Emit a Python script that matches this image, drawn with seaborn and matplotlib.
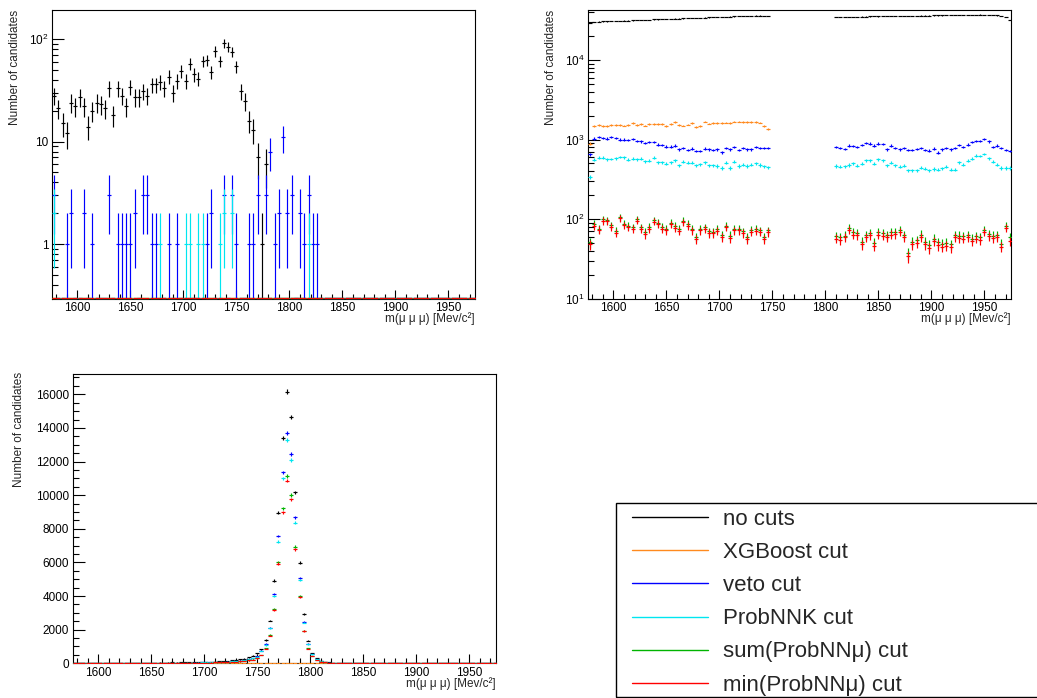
import numpy as np
import matplotlib
matplotlib.use("Agg")
import matplotlib.pyplot as plt
from matplotlib.lines import Line2D
from matplotlib.patches import Rectangle
from matplotlib.ticker import LogLocator, MultipleLocator, FuncFormatter, NullFormatter
import seaborn as sns

# ------------------------------------------------------------------ data
bin_centers = np.arange(1578, 1978, 4)          # 100 bins of 4 MeV/c^2

series_names = ["no cuts", "XGBoost cut", "veto cut", "ProbNNK cut",
                "sum(ProbNNμ) cut", "min(ProbNNμ) cut"]
series_colors = ["#000000", "#ff8a1e", "#0000ff", "#00e6f0", "#00b400", "#ff0000"]

# --- top-left panel (log y) ---
tl_no_cuts = [28, 21, 15, 12, 24, 22, 27, 22, 14, 20,
              24, 23, 21, 33, 18, 33, 28, 22, 34, 27,
              27, 31, 28, 36, 36, 38, 33, 43, 30, 39,
              49, 39, 57, 45, 41, 61, 62, 48, 76, 61,
              91, 84, 75, 54, 31, 25, 16, 13, 7, 1,
              6] + [0] * 49
tl_veto_mass = [1578, 1590, 1594, 1606, 1614, 1630, 1638, 1642, 1646, 1650,
                1654, 1662, 1666, 1670, 1674, 1686, 1694, 1722, 1726, 1738,
                1746, 1750, 1762, 1766, 1770, 1778, 1782, 1786, 1790, 1794,
                1798, 1802, 1810, 1814, 1818, 1822, 1826]
tl_veto_counts = [3, 1, 2, 2, 1, 3, 1, 1, 1, 1,
                  2, 3, 3, 1, 1, 1, 1, 1, 2, 3,
                  3, 1, 1, 1, 3, 3, 8, 1, 2, 11,
                  2, 3, 2, 1, 3, 1, 1]
tl_probnnk_mass = [1578, 1678, 1702, 1706, 1714, 1718, 1734, 1738, 1746, 1818]
tl_probnnk_counts = [2, 1, 1, 1, 1, 1, 1, 2, 2, 1]
tl_xgboost = [0] * 100
tl_sum_mu = [0] * 100
tl_min_mu = [0] * 100

# --- top-right panel (log y), sidebands: low 1578-1746, high 1810-1974 ---
tr_no_cuts_low = [29300, 30000, 30300, 30500, 30600, 30700, 30900, 31100, 31200, 31300,
                  31500, 31700, 31800, 32000, 32100, 32300, 32400, 32600, 32800, 32900,
                  33100, 33200, 33400, 33500, 33700, 33900, 34000, 34200, 34300, 34500,
                  34600, 34800, 35000, 35100, 35300, 35500, 35600, 35800, 36000, 36200,
                  36100, 36000, 35800]
tr_no_cuts_high = [34600, 34800, 34700, 34500, 34900, 35000, 35200, 35100, 35300, 35400,
                   35300, 35500, 35600, 35500, 35700, 35800, 35700, 35900, 36000, 35900,
                   36100, 36200, 36100, 36300, 36400, 36300, 36500, 36600, 36500, 36700,
                   36800, 36900, 37000, 37100, 37200, 37000, 36800, 36600, 36300, 35800,
                   34500, 31800]
tr_xgboost_low = [890, 1470, 1510, 1485, 1470, 1530, 1530, 1510, 1500, 1530,
                  1620, 1540, 1560, 1500, 1575, 1575, 1575, 1560, 1485, 1560,
                  1650, 1530, 1500, 1545, 1620, 1440, 1485, 1680, 1590, 1605,
                  1605, 1605, 1635, 1605, 1680, 1680, 1665, 1665, 1665, 1665,
                  1635, 1480, 1370]
tr_veto_low = [650, 1030, 1070, 1050, 1030, 1070, 1040, 1000, 1000, 990,
               1010, 950, 945, 900, 925, 925, 865, 850, 815, 815,
               840, 750, 785, 740, 770, 715, 720, 770, 750, 740,
               750, 690, 780, 755, 800, 740, 780, 750, 755, 800,
               780, 780, 780]
tr_veto_high = [810, 785, 765, 840, 830, 810, 850, 900, 890, 840,
                890, 880, 750, 840, 785, 755, 780, 740, 740, 765,
                780, 735, 725, 770, 685, 750, 785, 755, 785, 850,
                810, 865, 925, 960, 960, 1010, 945, 810, 840, 785,
                740, 720]
tr_probnnk_low = [335, 560, 590, 590, 565, 570, 580, 605, 595, 560,
                  575, 565, 575, 530, 545, 590, 520, 520, 495, 520,
                  550, 475, 525, 510, 510, 475, 490, 515, 475, 475,
                  465, 440, 510, 440, 525, 465, 485, 465, 485, 500,
                  480, 460, 450]
tr_probnnk_high = [465, 455, 460, 480, 500, 470, 495, 550, 550, 495,
                   565, 550, 475, 510, 475, 455, 470, 410, 410, 410,
                   445, 430, 410, 425, 420, 435, 455, 420, 420, 515,
                   485, 540, 575, 630, 620, 660, 580, 525, 485, 440,
                   440, 440]
tr_sum_mu_low = [51, 87, 76, 99, 97, 84, 71, 106, 88, 82,
                 79, 100, 79, 69, 80, 97, 90, 80, 76, 90,
                 82, 75, 95, 87, 76, 60, 76, 79, 70, 69,
                 75, 63, 83, 62, 75, 76, 70, 60, 73, 75,
                 72, 60, 72]
tr_sum_mu_high = [61, 59, 62, 78, 68, 67, 52, 63, 67, 50,
                  68, 66, 63, 68, 69, 73, 63, 37, 52, 54,
                  64, 52, 47, 57, 51, 49, 50, 48, 63, 62,
                  61, 63, 57, 61, 59, 73, 65, 62, 63, 49,
                  83, 60]
tr_min_mu_low = [48, 82, 73, 95, 94, 80, 67, 102, 84, 79,
                 75, 96, 75, 65, 76, 93, 87, 76, 72, 86,
                 78, 71, 91, 83, 72, 56, 72, 75, 66, 66,
                 71, 59, 79, 58, 72, 72, 66, 56, 69, 71,
                 69, 56, 68]
tr_min_mu_high = [57, 55, 59, 74, 64, 63, 48, 59, 63, 46,
                  64, 62, 59, 64, 65, 69, 59, 34, 48, 50,
                  59, 48, 43, 53, 47, 45, 46, 44, 59, 58,
                  57, 59, 53, 57, 55, 69, 61, 58, 59, 45,
                  78, 53]

# --- bottom-left panel (linear y), full range ---
bl_no_cuts = ([18, 22, 20, 25, 19, 24, 27, 22, 26, 30, 28, 25, 31, 29, 33, 35, 30, 38, 36, 40,
               42, 39, 45, 48, 44, 52, 55, 58]
              + [62, 70, 78, 85, 95, 105, 118, 130, 150, 170, 195, 230, 280, 350, 450, 600]
              + [830, 1390, 2540, 4920, 8960, 13420, 16160, 14630, 10170, 5990, 2915, 1350,
                 595, 300, 150]
              + [80, 52, 36, 27, 23, 19, 18, 16, 17, 15, 14, 15, 13, 12, 14, 12, 11, 13, 11, 10,
                 12, 10, 9, 11, 10, 9, 10, 8, 9, 9, 8, 9, 8, 7, 8, 8, 7, 8, 7, 6, 7])
bl_xgboost = [0] * 100
bl_veto = ([12, 15, 13, 17, 13, 16, 18, 15, 17, 20, 19, 17, 21, 19, 22, 23, 20, 25, 24, 27,
            28, 26, 30, 32, 29, 35, 37, 39]
           + [42, 47, 52, 57, 64, 70, 79, 87, 100, 114, 131, 155, 189, 236, 305, 410]
           + [750, 1150, 2120, 4100, 7570, 11360, 13720, 12450, 8685, 5075, 2440, 1170,
              555, 260, 125]
           + [65, 42, 29, 22, 18, 15, 14, 13, 13, 12, 11, 12, 10, 10, 11, 9, 9, 10, 9, 8,
              9, 8, 7, 9, 8, 7, 8, 6, 7, 7, 6, 7, 6, 6, 6, 6, 5, 6, 5, 5, 5])
bl_probnnk = ([11, 14, 12, 16, 12, 15, 17, 14, 16, 19, 18, 16, 20, 18, 21, 22, 19, 24, 23, 26,
               27, 25, 29, 31, 28, 34, 36, 38]
              + [40, 45, 50, 55, 62, 68, 76, 84, 97, 110, 127, 150, 183, 228, 295, 395]
              + [730, 1090, 2080, 4005, 7240, 11000, 13290, 12100, 8370, 4960, 2420, 1130,
                 535, 250, 120]
              + [62, 40, 28, 21, 17, 14, 13, 12, 12, 11, 10, 11, 9, 9, 10, 8, 8, 9, 8, 7,
                 8, 7, 6, 8, 7, 6, 7, 5, 6, 6, 5, 6, 5, 5, 5, 5, 4, 5, 4, 4, 4])
bl_sum_mu = ([9, 11, 10, 12, 9, 12, 13, 11, 13, 15, 14, 12, 15, 14, 16, 17, 15, 19, 18, 20,
              21, 19, 22, 24, 22, 26, 27, 29]
             + [31, 35, 39, 42, 47, 52, 59, 65, 75, 85, 97, 115, 140, 175, 225, 300]
             + [495, 890, 1685, 3230, 6010, 9220, 11145, 10015, 6940, 4005, 1943, 890,
                435, 205, 100]
             + [52, 34, 23, 17, 14, 12, 11, 10, 10, 9, 9, 9, 8, 7, 8, 7, 7, 8, 7, 6,
                7, 6, 5, 7, 6, 5, 6, 4, 5, 5, 4, 5, 4, 4, 4, 4, 3, 4, 3, 3, 3])
bl_min_mu = ([9, 10, 10, 12, 9, 11, 13, 11, 12, 14, 13, 12, 15, 14, 16, 16, 14, 18, 17, 19,
              20, 19, 21, 23, 21, 25, 26, 28]
             + [30, 34, 38, 41, 46, 51, 57, 63, 73, 83, 95, 112, 137, 171, 220, 292]
             + [490, 870, 1650, 3180, 5920, 8980, 10870, 9760, 6780, 3930, 1925, 870,
                430, 200, 98]
             + [50, 33, 22, 17, 14, 12, 11, 10, 9, 9, 8, 9, 8, 7, 8, 7, 6, 7, 7, 6,
                7, 6, 5, 6, 6, 5, 6, 4, 5, 5, 4, 5, 4, 4, 4, 4, 3, 4, 3, 3, 3])

x_axis_label = "m(μ μ μ) [Mev/c²]"
y_axis_label = "Number of candidates"

# ------------------------------------------------------------------ style
sns.set_theme(style="white")
plt.rcParams["font.family"] = ["Liberation Sans", "DejaVu Sans"]
plt.rcParams["mathtext.fontset"] = "custom"
plt.rcParams["mathtext.rm"] = "Liberation Sans"
plt.rcParams["mathtext.it"] = "Liberation Sans:italic"
plt.rcParams["mathtext.bf"] = "Liberation Sans:bold"
plt.rcParams["axes.edgecolor"] = "black"
plt.rcParams["axes.linewidth"] = 0.8

W, H = 1037, 698
fig = plt.figure(figsize=(W / 100, H / 100), dpi=100)
fig.patch.set_facecolor("white")


def rect(left, top, right, bottom):
    return [left / W, 1 - bottom / H, (right - left) / W, (bottom - top) / H]


ax_tl = fig.add_axes(rect(52, 10, 475, 299))
ax_tr = fig.add_axes(rect(588, 10, 1011, 299))
ax_bl = fig.add_axes(rect(72.7, 374.3, 495.7, 663.3))

TL_YMIN, TL_YMAX = 0.293, 191
TR_YMIN, TR_YMAX = 9.9, 42500
BL_YMIN, BL_YMAX = 0, 17190
XMIN, XMAX = 1576, 1975


def draw_series(ax, x, y, color, floor, zero_pos, z):
    """ROOT-like 'E' drawing: horizontal bin bar + vertical sqrt(N) error."""
    x = np.asarray(x, float)
    y = np.asarray(y, float)
    ok = ~np.isnan(y)
    x, y = x[ok], y[ok]
    ypos = np.where(y > 0, y, zero_pos)
    nz = y > 0
    err = np.sqrt(y[nz])
    lo = y[nz] - err
    if floor > 0:
        lo = np.where(lo <= floor, floor, lo)
    ax.vlines(x[nz], lo, y[nz] + err, colors=color, lw=0.85, zorder=z)
    sns.scatterplot(x=x, y=ypos, marker="_", s=10.5, color=color, linewidth=0.85,
                    ax=ax, legend=False, zorder=z + 0.5, clip_on=True)


def sparse_to_full(mass, counts):
    full = np.zeros(len(bin_centers))
    for m, c in zip(mass, counts):
        full[int(np.argmin(np.abs(bin_centers - m)))] = c
    return full


# --- top-left ---
tl_series = [tl_no_cuts, tl_xgboost, sparse_to_full(tl_veto_mass, tl_veto_counts),
             sparse_to_full(tl_probnnk_mass, tl_probnnk_counts), tl_sum_mu, tl_min_mu]
ax_tl.set_yscale("log")
for i, (vals, col) in enumerate(zip(tl_series, series_colors)):
    draw_series(ax_tl, bin_centers, vals, col, TL_YMIN, TL_YMIN * 1.013, 2 + i)

# --- top-right ---
low_x = bin_centers[:43]
high_x = bin_centers[58:]
tr_series = [(tr_no_cuts_low, tr_no_cuts_high), (tr_xgboost_low, None),
             (tr_veto_low, tr_veto_high), (tr_probnnk_low, tr_probnnk_high),
             (tr_sum_mu_low, tr_sum_mu_high), (tr_min_mu_low, tr_min_mu_high)]
ax_tr.set_yscale("log")
for i, ((lo_v, hi_v), col) in enumerate(zip(tr_series, series_colors)):
    draw_series(ax_tr, low_x, lo_v, col, TR_YMIN, TR_YMIN, 2 + i)
    if hi_v is not None:
        draw_series(ax_tr, high_x, hi_v, col, TR_YMIN, TR_YMIN, 2 + i)

# --- bottom-left ---
bl_series = [bl_no_cuts, bl_xgboost, bl_veto, bl_probnnk, bl_sum_mu, bl_min_mu]
for i, (vals, col) in enumerate(zip(bl_series, series_colors)):
    draw_series(ax_bl, bin_centers, vals, col, 0, 25, 2 + i)


def log_fmt(show_small):
    def f(v, pos):
        if v <= 0:
            return ""
        e = int(round(np.log10(v)))
        if abs(np.log10(v) - e) > 1e-6:
            return ""
        if show_small and e == 0:
            return "1"
        if show_small and e == 1:
            return "10"
        return r"$10^{%d}$" % e
    return FuncFormatter(f)


for ax in (ax_tl, ax_tr, ax_bl):
    ax.set_xlim(XMIN, XMAX)
    ax.xaxis.set_major_locator(MultipleLocator(50))
    ax.xaxis.set_minor_locator(MultipleLocator(10))
    ax.tick_params(axis="both", which="both", direction="in", top=False, right=False,
                   bottom=True, left=True, labelsize=8.5, colors="black", width=0.8)
    ax.tick_params(axis="x", which="major", length=6.5, pad=2.5)
    ax.tick_params(axis="x", which="minor", length=3.3)
    ax.tick_params(axis="y", which="major", length=8.5, pad=2.5)
    ax.tick_params(axis="y", which="minor", length=4.3)
    for sp in ax.spines.values():
        sp.set_color("black")
        sp.set_linewidth(0.8)
        sp.set_visible(True)
    ax.grid(False)
    ax.set_facecolor("white")
    ax.set_xlabel(x_axis_label, fontsize=8.5, loc="right")
    ax.xaxis.set_label_coords(1.0, -0.047)
    ax.set_ylabel(y_axis_label, fontsize=8.5, loc="top")

ax_tl.set_ylim(TL_YMIN, TL_YMAX)
ax_tl.yaxis.set_major_locator(LogLocator(base=10, numticks=10))
ax_tl.yaxis.set_minor_locator(LogLocator(base=10, subs=np.arange(2, 10), numticks=20))
ax_tl.yaxis.set_major_formatter(log_fmt(True))
ax_tl.yaxis.set_minor_formatter(NullFormatter())
ax_tl.yaxis.set_label_coords(-0.0733, 1.0)

ax_tr.set_ylim(TR_YMIN, TR_YMAX)
ax_tr.yaxis.set_major_locator(LogLocator(base=10, numticks=10))
ax_tr.yaxis.set_minor_locator(LogLocator(base=10, subs=np.arange(2, 10), numticks=20))
ax_tr.yaxis.set_major_formatter(log_fmt(False))
ax_tr.yaxis.set_minor_formatter(NullFormatter())
ax_tr.yaxis.set_label_coords(-0.0733, 1.0)

ax_bl.set_ylim(BL_YMIN, BL_YMAX)
ax_bl.yaxis.set_major_locator(MultipleLocator(2000))
ax_bl.yaxis.set_minor_locator(MultipleLocator(500))
ax_bl.yaxis.set_label_coords(-0.1128, 1.008)

# ------------------------------------------------------------------ legend
handles = [Line2D([], [], color=c, lw=1.0) for c in series_colors]
fig.legend(handles, series_names, loc="upper left",
           bbox_to_anchor=(632 / W, 1 - 509 / H), frameon=False, fontsize=16,
           handlelength=3.4, handletextpad=0.68, labelspacing=0.545,
           borderpad=0, borderaxespad=0)
box = Rectangle((615.7 / W, 1 - 696.7 / H), (1045 - 615.7) / W, (696.7 - 503.3) / H,
                transform=fig.transFigure, fill=False, edgecolor="black", lw=1.0,
                clip_on=False)
fig.add_artist(box)

fig.savefig("out.png", dpi=100)
